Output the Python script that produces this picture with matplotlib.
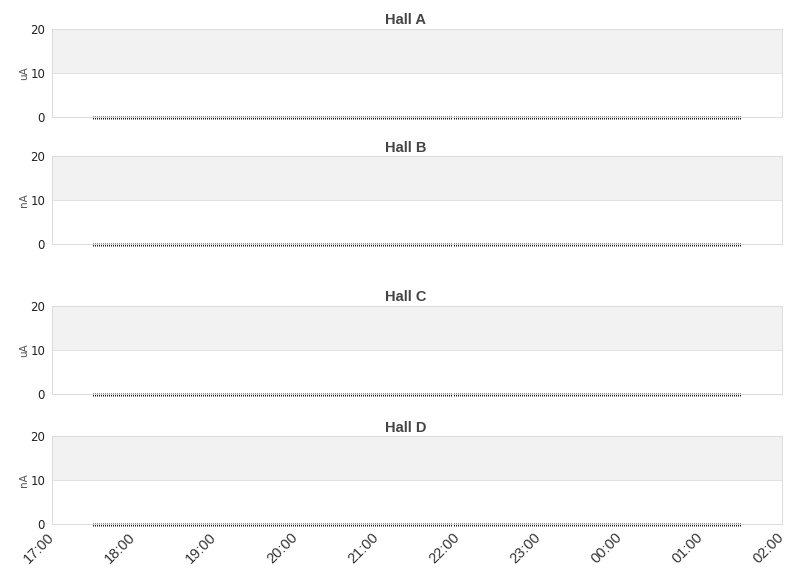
import numpy as np
import pandas as pd
import matplotlib
matplotlib.use("Agg")
import matplotlib.pyplot as plt
import matplotlib.dates as mdates

halls = ["Hall A", "Hall B", "Hall C", "Hall D"]
units = ["uA", "nA", "uA", "nA"]

# beam current readings, all zero over the window
times = pd.date_range("2024-01-01 17:30", "2024-01-02 01:30", freq="89s")
currents = {h: np.zeros(len(times)) for h in halls}

x_start = pd.Timestamp("2024-01-01 17:00")
x_end = pd.Timestamp("2024-01-02 02:00")

fig = plt.figure(figsize=(8.11, 5.78), dpi=100)
left, width, height = 52 / 811, 730 / 811, 88 / 578
bottoms = [1 - 117 / 578, 1 - 244 / 578, 1 - 394 / 578, 1 - 524 / 578]
title_y = [20.5, 147.5, 297.5, 427.5]

edge = "#dcdcdc"
for i, (hall, unit) in enumerate(zip(halls, units)):
    ax = fig.add_axes([left, bottoms[i], width, height])
    ax.axhspan(10, 20, color="#f2f2f2", zorder=0, lw=0)
    ax.axhline(10, color="#e2e2e2", lw=0.72, zorder=1)
    # each reading is a tiny 1x3 px tick; the spine covers its middle pixel
    ax.plot(times, currents[hall], linestyle="none", marker="|",
            markersize=2.16, markeredgewidth=0.72, color="#1a1a1a",
            zorder=2, clip_on=False)
    ax.set_ylim(0, 20)
    ax.set_xlim(x_start, x_end)
    ax.set_yticks([0, 10, 20])
    ax.tick_params(axis="y", length=0, labelsize=8.5, colors="#222222", pad=5)
    ax.tick_params(axis="x", length=0)
    for s in ax.spines.values():
        s.set_color(edge)
        s.set_linewidth(0.72)
        s.set_zorder(3)
    ax.set_ylabel(unit, fontsize=7.5, color="#555555", labelpad=1)
    fig.text(0.5, 1 - title_y[i] / 578, hall, ha="center", va="center",
             fontsize=10.5, fontweight="bold", color="#444444",
             family="Liberation Sans")
    ax.xaxis.set_major_locator(mdates.HourLocator())
    ax.xaxis.set_major_formatter(mdates.DateFormatter("%H:%M"))
    if i < 3:
        ax.set_xticklabels([])
    else:
        ax.tick_params(axis="x", pad=8)
        for lab in ax.get_xticklabels():
            lab.set_rotation(45)
            lab.set_ha("right")
            lab.set_va("center")
            lab.set_rotation_mode("anchor")
            lab.set_fontsize(10.5)
            lab.set_family("Liberation Sans")
            lab.set_color("#333333")

fig.savefig("out.png", dpi=100)
